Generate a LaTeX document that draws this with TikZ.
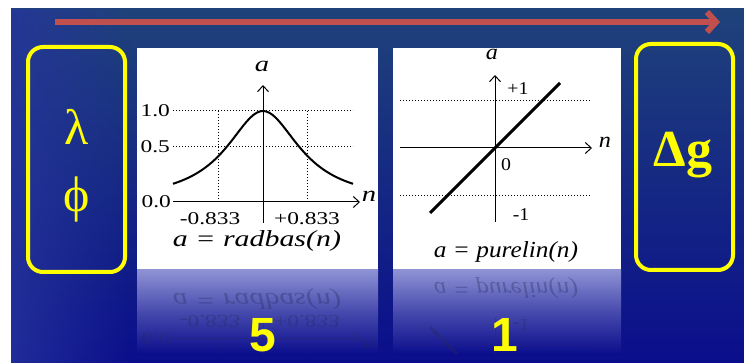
\documentclass[tikz,border=0pt]{standalone}
\usepackage{fontspec}
\setmainfont{Liberation Serif}
\newfontfamily\radfont[FakeStretch=1.3]{Liberation Serif}
\newfontfamily\linfont[FakeStretch=1.1]{Liberation Serif}
\newfontfamily\digitfont{Liberation Sans}
\usetikzlibrary{arrows.meta,fadings}

\definecolor{bgtop}{RGB}{31,66,122}
\definecolor{bgbot}{RGB}{11,14,140}
\definecolor{bgleft}{RGB}{38,52,156}
\definecolor{arrowred}{RGB}{192,80,77}
\definecolor{boxyellow}{RGB}{255,255,0}
\definecolor{reflav}{RGB}{142,146,212}
\definecolor{refink}{RGB}{40,40,90}

\tikzset{
  greekbox/.style={draw=boxyellow, line width=4pt, rounded corners=15pt},
  panel/.style={fill=white},
  reflex/.style={top color=reflav, bottom color=bgbot, middle color=reflav!45!bgbot},
  axis/.style={-{Straight Barb[length=6pt,width=11pt]}, line width=1pt},
  guide/.style={dotted, line width=1pt},
  curve/.style={line width=2pt},
  tick/.style={font=#1\fontsize{18}{18}\selectfont, inner sep=1pt},
  axlbl/.style={font=#1\itshape\fontsize{22}{22}\selectfont, inner sep=1pt},
  caption/.style={font=#1\itshape\fontsize{23}{23}\selectfont, inner sep=1pt},
  greek/.style={text=boxyellow, font=\fontsize{50}{50}\selectfont},
  count/.style={text=boxyellow, inner sep=0pt, font=\digitfont\bfseries\fontsize{48}{48}\selectfont},
}

% radbas panel, lower part (also mirrored), #1 = name prefix
\newcommand{\radbasgraph}[1]{%
  \draw[guide] (173,111) -- (353,111);
  \draw[guide] (173,147) -- (353,147);
  \draw[guide] (218,111) -- (218,202);
  \draw[guide] (307,111) -- (307,202);
  \draw[axis] (173,202) -- (360,202);
  \draw[axis] (263,223) -- (263,85);
  \draw[curve] plot[domain=-90:90, samples=61, smooth]
    ({263+\x},{202-91/(1+(\x/45)^2)});
  \node[axlbl=\radfont] (#1n) at (369,196) {n};
  \node[tick=\radfont, anchor=east] (#1zero) at (172,202) {0.0};
  \node[tick=\radfont] (#1neg) at (210,219) {-0.833};
  \node[tick=\radfont] (#1pos) at (307,219) {+0.833};
  \node[caption=\radfont] (#1cap) at (257,241) {a = radbas(n)};
}

% purelin panel, lower part (also mirrored), #1 = name prefix
\newcommand{\purelingraph}[1]{%
  \draw[guide] (400,101) -- (590,101);
  \draw[guide] (400,196) -- (590,196);
  \draw[axis] (400,148) -- (592,148);
  \draw[axis] (495,222) -- (495,75);
  \draw[curve, line width=3pt] (430,213) -- (560,83);
  \node[tick=\linfont] (#1minus) at (521,215) {-1};
  \node[caption=\linfont] (#1cap) at (506,252) {a = purelin(n)};
}

\begin{document}
\begin{tikzpicture}[x=1pt, y=-1pt]
\useasboundingbox (0,0) rectangle (744,363);
% background
\fill[top color=bgtop, bottom color=bgbot] (11,9) rectangle (744,363);
\fill[bgleft, path fading=east, opacity=0.8] (11,9) rectangle (130,363);
% top arrow
\coordinate (flowstart) at (55,22);
\coordinate (flowend) at (720,22);
\draw[arrowred, line width=6pt, -{Straight Barb[length=9pt,width=20pt]}] (flowstart) -- (flowend);
% inputs and output
\draw[greekbox] (28,47) rectangle (125,272);
\node[greek] (lam) at (77,127) {λ};
\node[greek] (phi) at (77,199) {ϕ};
\draw[greekbox] (636,44) rectangle (733,270);
\node[greek, font=\bfseries\fontsize{52}{52}\selectfont] (dg) at (683,155) {Δg};
% panels
\fill[panel] (137,48) rectangle (378,270);
\fill[panel] (393,48) rectangle (621,270);
\radbasgraph{rb}
\node[axlbl=\radfont] (rba) at (262,66) {a};
\node[tick=\radfont, anchor=east] (rbone)  at (171,111) {1.0};
\node[tick=\radfont, anchor=east] (rbhalf) at (171,147) {0.5};
\purelingraph{pl}
\node[axlbl=\linfont] (pla) at (492,54) {a};
\node[axlbl=\linfont] (pln) at (605,142) {n};
\node[tick=\linfont] (plplus) at (518,89)  {+1};
\node[tick=\linfont] (plzero) at (506,165) {0};
% reflections
\fill[reflex] (137,270) rectangle (378,354);
\fill[reflex] (393,270) rectangle (621,354);
\begin{scope}
  \clip (137,270) rectangle (378,354) (393,270) rectangle (621,354);
  \begin{scope}[yshift=-540pt, yscale=-1, transform shape, color=refink, opacity=0.35]
    \radbasgraph{rbm}
    \purelingraph{plm}
  \end{scope}
\end{scope}
% neuron counts
\node[count] (five) at (263,335) {5};
\node[count] (one) at (505,335) {1};
\end{tikzpicture}
\end{document}
